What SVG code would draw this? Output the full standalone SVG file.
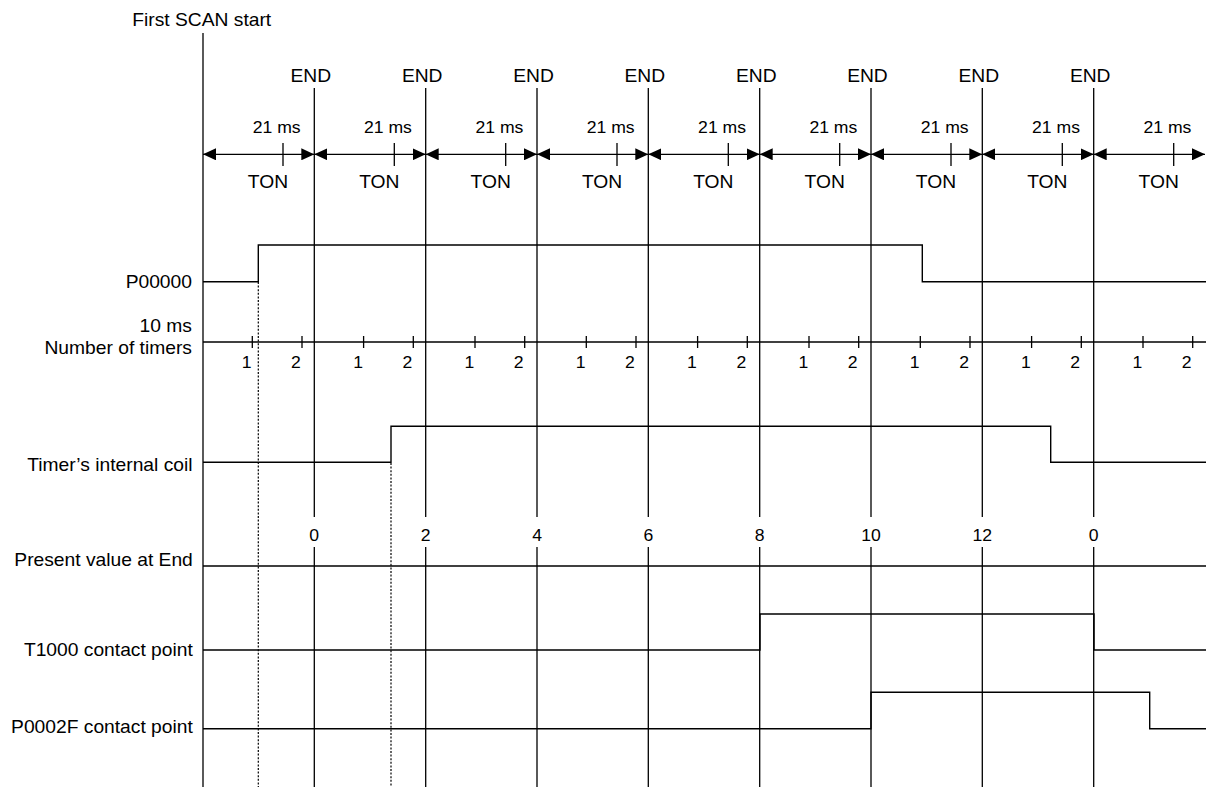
<svg xmlns="http://www.w3.org/2000/svg" width="1206" height="787" viewBox="0 0 1206 787">
<style>
.ln{stroke:#000;stroke-width:1.3;fill:none}
.wf{stroke:#000;stroke-width:1.4;fill:none}
.dt{stroke:#000;stroke-width:1.2;fill:none;stroke-dasharray:2 1.6}
text{font-family:"Liberation Sans",Arial,sans-serif;fill:#000}
.l{font-size:17.5px;text-anchor:end}
.c{font-size:17.5px;text-anchor:middle}
.n{font-size:16px;text-anchor:middle}
</style>
<defs>
<marker id="ah" viewBox="0 0 13 12" refX="13" refY="6" markerWidth="13" markerHeight="12" markerUnits="userSpaceOnUse" orient="auto-start-reverse">
<path d="M0,0 L13,6 L0,12 Z" fill="#000"/>
</marker>
</defs>
<rect width="1206" height="787" fill="#fff"/>
<g id="grid">
<line class="ln" x1="203" y1="33" x2="203" y2="787"/>
<path class="ln" d="M314.3,88V517M314.3,547V787M425.7,88V517M425.7,547V787M537,88V517M537,547V787M648.3,88V517M648.3,547V787M759.7,88V517M759.7,547V787M871,88V517M871,547V787M982.3,88V517M982.3,547V787M1093.7,88V517M1093.7,547V787"/>
</g>
<g id="connectors">
<line class="ln" x1="203" y1="154.3" x2="314.3" y2="154.3" marker-start="url(#ah)" marker-end="url(#ah)"/>
<line class="ln" x1="314.3" y1="154.3" x2="425.7" y2="154.3" marker-start="url(#ah)" marker-end="url(#ah)"/>
<line class="ln" x1="425.7" y1="154.3" x2="537" y2="154.3" marker-start="url(#ah)" marker-end="url(#ah)"/>
<line class="ln" x1="537" y1="154.3" x2="648.3" y2="154.3" marker-start="url(#ah)" marker-end="url(#ah)"/>
<line class="ln" x1="648.3" y1="154.3" x2="759.7" y2="154.3" marker-start="url(#ah)" marker-end="url(#ah)"/>
<line class="ln" x1="759.7" y1="154.3" x2="871" y2="154.3" marker-start="url(#ah)" marker-end="url(#ah)"/>
<line class="ln" x1="871" y1="154.3" x2="982.3" y2="154.3" marker-start="url(#ah)" marker-end="url(#ah)"/>
<line class="ln" x1="982.3" y1="154.3" x2="1093.7" y2="154.3" marker-start="url(#ah)" marker-end="url(#ah)"/>
<line class="ln" x1="1093.7" y1="154.3" x2="1205" y2="154.3" marker-start="url(#ah)" marker-end="url(#ah)"/>
<path class="ln" d="M283,143V166M394.3,143V166M505.7,143V166M617,143V166M728.3,143V166M839.7,143V166M951,143V166M1062.3,143V166M1173.7,143V166"/>
</g>
<g id="P00000">
<path class="wf" d="M203,281.7H258.3V245H922.3V281.7H1206"/>
<line class="dt" x1="258.3" y1="282" x2="258.3" y2="787"/>
</g>
<g id="timers">
<line class="wf" x1="203" y1="342" x2="1206" y2="342"/>
<path class="ln" d="M252.3,336V348M302,336V348M363.6,336V348M413.3,336V348M475,336V348M524.7,336V348M586.3,336V348M636,336V348M697.6,336V348M747.3,336V348M809,336V348M858.7,336V348M920.3,336V348M970,336V348M1031.6,336V348M1081.3,336V348M1143,336V348M1192.7,336V348"/>
</g>
<g id="coil">
<path class="wf" d="M203,462.3H391V426.3H1050.7V462.3H1206"/>
<line class="dt" x1="391" y1="463" x2="391" y2="787"/>
</g>
<g id="present">
<line class="wf" x1="203" y1="566" x2="1206" y2="566"/>
</g>
<g id="T1000">
<path class="wf" d="M203,650H760V614H1094V650H1206"/>
</g>
<g id="P0002F">
<path class="wf" d="M203,728.7H871V692.3H1149.7V728.7H1206"/>
</g>
<g id="labels" transform="scale(1.1 1)">
<text x="120.3" y="25.7" style="font-size:17.5px">First SCAN start</text>
<text class="c" x="282.5" y="82">END</text>
<text class="c" x="383.8" y="82">END</text>
<text class="c" x="485" y="82">END</text>
<text class="c" x="586.2" y="82">END</text>
<text class="c" x="687.5" y="82">END</text>
<text class="c" x="788.6" y="82">END</text>
<text class="c" x="889.8" y="82">END</text>
<text class="c" x="991.1" y="82">END</text>
<text class="n" x="251.5" y="133">21 ms</text>
<text class="n" x="352.7" y="133">21 ms</text>
<text class="n" x="454" y="133">21 ms</text>
<text class="n" x="555.2" y="133">21 ms</text>
<text class="n" x="656.4" y="133">21 ms</text>
<text class="n" x="757.6" y="133">21 ms</text>
<text class="n" x="858.8" y="133">21 ms</text>
<text class="n" x="960" y="133">21 ms</text>
<text class="n" x="1061.3" y="133">21 ms</text>
<text class="c" x="243.6" y="188">TON</text>
<text class="c" x="344.8" y="188">TON</text>
<text class="c" x="446.1" y="188">TON</text>
<text class="c" x="547.3" y="188">TON</text>
<text class="c" x="648.5" y="188">TON</text>
<text class="c" x="749.7" y="188">TON</text>
<text class="c" x="850.9" y="188">TON</text>
<text class="c" x="952.1" y="188">TON</text>
<text class="c" x="1053.4" y="188">TON</text>
<text class="l" x="174.5" y="288">P00000</text>
<text class="l" x="174.5" y="332">10 ms</text>
<text class="l" x="174.5" y="354">Number of timers</text>
<text class="l" x="175" y="471">Timer’s internal coil</text>
<text class="l" x="175.3" y="566.5">Present value at End</text>
<text class="l" x="175.3" y="655.7">T1000 contact point</text>
<text class="l" x="175.3" y="732.7">P0002F contact point</text>
<text class="n" x="224.3" y="367.7">1</text>
<text class="n" x="325.5" y="367.7">1</text>
<text class="n" x="426.7" y="367.7">1</text>
<text class="n" x="527.9" y="367.7">1</text>
<text class="n" x="629.1" y="367.7">1</text>
<text class="n" x="730.4" y="367.7">1</text>
<text class="n" x="831.5" y="367.7">1</text>
<text class="n" x="932.7" y="367.7">1</text>
<text class="n" x="1034" y="367.7">1</text>
<text class="n" x="269.1" y="367.7">2</text>
<text class="n" x="370.3" y="367.7">2</text>
<text class="n" x="471.5" y="367.7">2</text>
<text class="n" x="572.7" y="367.7">2</text>
<text class="n" x="673.9" y="367.7">2</text>
<text class="n" x="775.2" y="367.7">2</text>
<text class="n" x="876.4" y="367.7">2</text>
<text class="n" x="977.5" y="367.7">2</text>
<text class="n" x="1078.8" y="367.7">2</text>
<text class="n" x="285.7" y="540.7">0</text>
<text class="n" x="387" y="540.7">2</text>
<text class="n" x="488.2" y="540.7">4</text>
<text class="n" x="589.4" y="540.7">6</text>
<text class="n" x="690.6" y="540.7">8</text>
<text class="n" x="791.8" y="540.7">10</text>
<text class="n" x="893" y="540.7">12</text>
<text class="n" x="994.3" y="540.7">0</text>
</g>
</svg>
